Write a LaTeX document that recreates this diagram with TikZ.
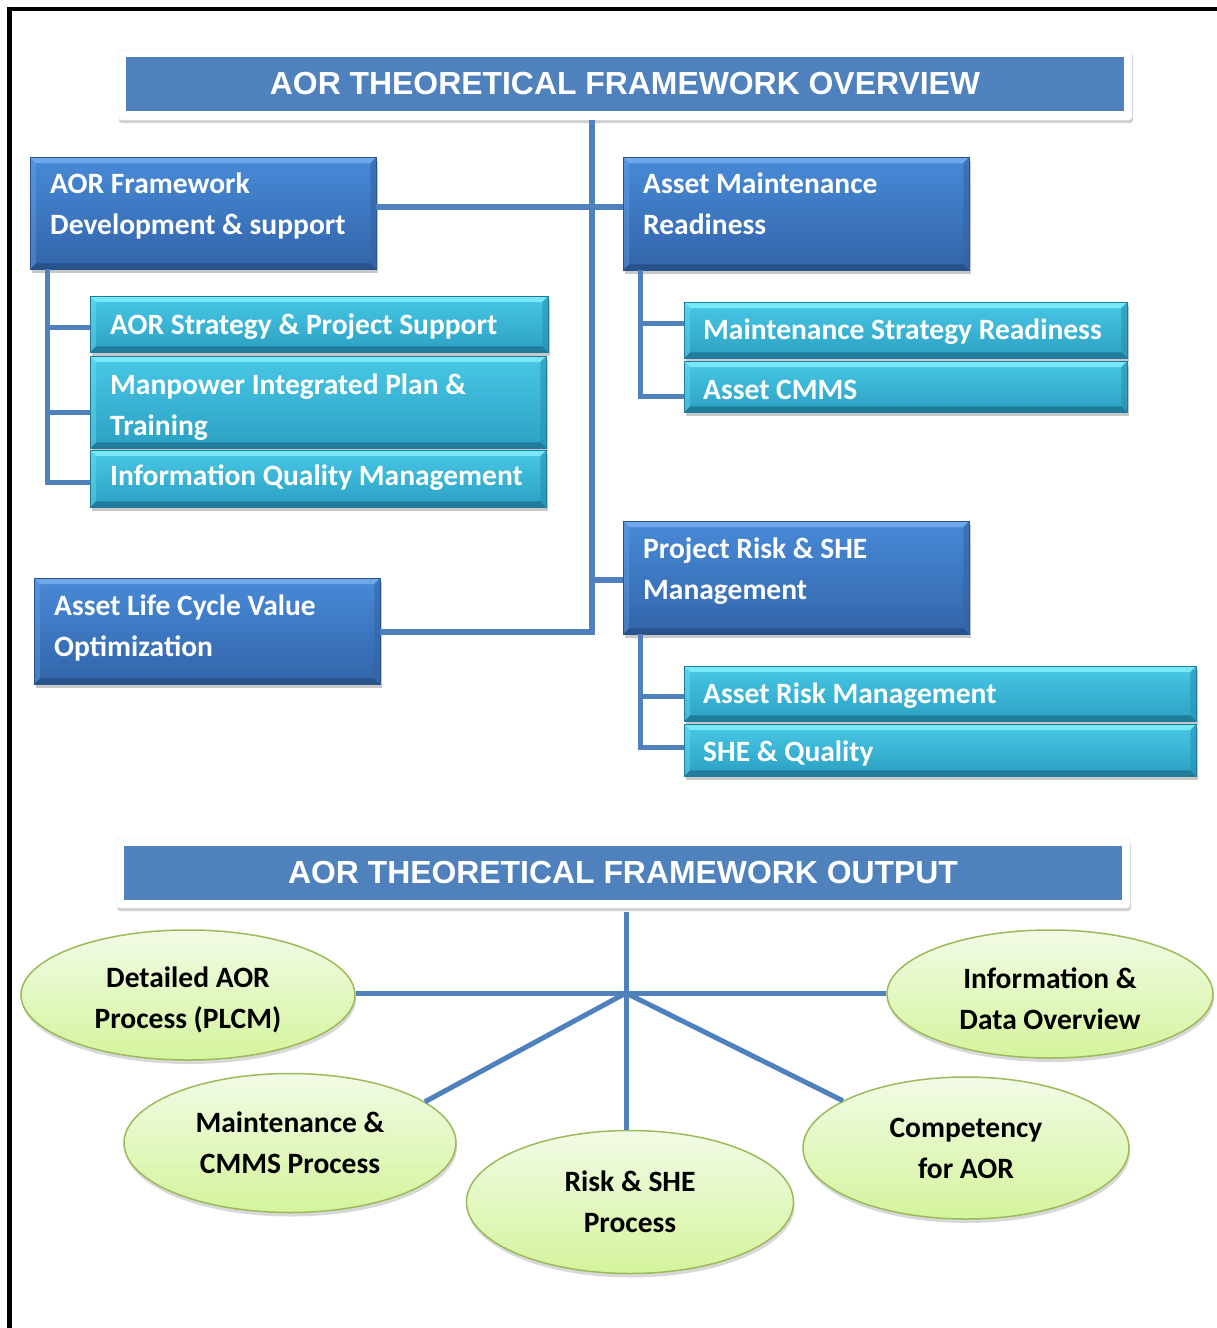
\documentclass[tikz,border=0pt]{standalone}
\usepackage{fontspec}
\usetikzlibrary{shapes.geometric,shadows,calc}
\newfontfamily\panelfont{Carlito}
\newfontfamily\headfont{Liberation Sans}

\definecolor{linkblue}{RGB}{79,129,189}
\definecolor{headblue}{RGB}{79,129,189}
\definecolor{bluetop}{RGB}{72,138,216}
\definecolor{bluebot}{RGB}{50,100,168}
\definecolor{bluehi}{RGB}{112,168,236}
\definecolor{bluelo}{RGB}{40,82,140}
\definecolor{blueside}{RGB}{52,100,165}
\definecolor{cyantop}{RGB}{72,200,230}
\definecolor{cyanbot}{RGB}{44,160,194}
\definecolor{cyanhi}{RGB}{120,232,248}
\definecolor{cyanlo}{RGB}{32,124,155}
\definecolor{cyanside}{RGB}{40,145,178}
\definecolor{leaftop}{RGB}{242,251,230}
\definecolor{leafbot}{RGB}{212,244,156}
\definecolor{leafedge}{RGB}{155,187,89}

\tikzset{
  panelbox/.style={rectangle, anchor=north west, inner sep=0pt,
    drop shadow={shadow xshift=2pt, shadow yshift=-4pt, opacity=.3, fill=black!70}},
  paneltext/.style={anchor=base west, align=left, inner sep=0pt, text=white,
    font=\panelfont\bfseries\fontsize{29.5}{41}\selectfont},
  headframe/.style={rectangle, rounded corners=3pt, fill=white, draw=black!10,
    inner sep=0pt, drop shadow={shadow xshift=1pt, shadow yshift=-3pt, opacity=.3, fill=black!60}},
  headbar/.style={rectangle, fill=headblue, text=white, inner sep=0pt,
    font=\headfont\bfseries\fontsize{31.9}{38}\selectfont},
  leaf/.style={ellipse, inner sep=0pt, top color=leaftop, bottom color=leafbot,
    draw=leafedge, line width=1.5pt, align=center, text=black,
    drop shadow={shadow xshift=1pt, shadow yshift=-4pt, opacity=.25, fill=black!60},
    font=\panelfont\bfseries\fontsize{29.5}{41}\selectfont},
  trunk/.style={draw=linkblue, line width=6.5pt, line join=miter},
  branch/.style={draw=linkblue, line width=5pt, line join=miter},
  spoke/.style={draw=linkblue, line width=5pt},
}

% bevelled panel: name, x1, y1, x2, y2, palette
\newcommand\panel[6]{%
  \node[panelbox, top color=#6top, bottom color=#6bot,
        minimum width={(#4-#2)*1pt}, minimum height={(#5-#3)*1pt}] (#1) at (#2,#3) {};
  \fill[#6hi] (#1.north west) -- (#1.north east) -- ([shift={(-6pt,-6pt)}]#1.north east)
     -- ([shift={(6pt,-6pt)}]#1.north west) -- cycle;
  \fill[#6lo] (#1.south west) -- (#1.south east) -- ([shift={(-6pt,6pt)}]#1.south east)
     -- ([shift={(6pt,6pt)}]#1.south west) -- cycle;
  \fill[#6side, opacity=.6] (#1.north east) -- (#1.south east) -- ([shift={(-6pt,6pt)}]#1.south east)
     -- ([shift={(-6pt,-6pt)}]#1.north east) -- cycle;
  \fill[#6hi, opacity=.35] (#1.north west) -- (#1.south west) -- ([shift={(6pt,6pt)}]#1.south west)
     -- ([shift={(6pt,-6pt)}]#1.north west) -- cycle;
  \draw[#6lo, line width=1pt] (#1.north west) rectangle (#1.south east);
}
% raises the top of a first line so the text block sits lower
\newcommand\toplift{\rule{0pt}{31pt}}

\begin{document}
\begin{tikzpicture}[x=1pt, y=-1pt]
\useasboundingbox (0,0) rectangle (1217,1328);
\fill[white] (0,0) rectangle (1217,1328);

% outer frame
\draw[line width=4.7pt, line join=miter] (9.7,1328) -- (9.7,9) -- (1217,9);

% ---------- overview ----------
\node[headframe, minimum width=1014pt, minimum height=70pt] (ovwframe) at (625,85) {};
\node[headbar, minimum width=998pt, minimum height=54pt] (ovw) at (625,84) {AOR THEORETICAL FRAMEWORK OVERVIEW};

\panel{A}{30}{157}{376}{269}{blue}
\panel{B}{623}{157}{969}{270}{blue}
\panel{C}{623}{521}{969}{634}{blue}
\panel{D}{34}{578}{380}{684}{blue}

\panel{A1}{90}{296}{548}{352}{cyan}
\panel{A2}{90}{356}{546}{448}{cyan}
\panel{A3}{90}{450}{546}{507}{cyan}
\panel{B1}{684}{302}{1127}{358}{cyan}
\panel{B2}{684}{361}{1127}{412}{cyan}
\panel{C1}{684}{666}{1196}{721}{cyan}
\panel{C2}{684}{724}{1196}{776}{cyan}

% text anchors sit on the baseline of the last line
\node[paneltext] (A-t) at (50,234) {AOR Framework\\Development \& support};
\node[paneltext] (B-t) at (643,234) {Asset Maintenance\\Readiness};
\node[paneltext] (C-t) at (643,599) {Project Risk \& SHE\\Management};
\node[paneltext] (D-t) at (54,656) {Asset Life Cycle Value\\Optimization};
\node[paneltext] (A1-t) at (110,334) {AOR Strategy \& Project Support};
\node[paneltext] (A2-t) at (110,435) {Manpower Integrated Plan \&\\Training};
\node[paneltext] (A3-t) at (110,485) {Information Quality Management};
\node[paneltext] (B1-t) at (703,339) {Maintenance Strategy Readiness};
\node[paneltext] (B2-t) at (703,399) {Asset CMMS};
\node[paneltext] (C1-t) at (703,703) {Asset Risk Management};
\node[paneltext] (C2-t) at (703,761) {SHE \& Quality};

% trunk and main branches
\coordinate (j1) at (592,207);
\coordinate (j2) at (592,580);
\coordinate (jend) at (592,632);
\draw[trunk] (ovwframe.south -| j1) -- (jend) -- (D.east |- jend);
\draw[trunk] (A.east |- j1) -- (B.west |- j1);
\draw[trunk] (j2) -- (C.west |- j2);

% sub-trees
\coordinate (ta) at (47,0);
\coordinate (tb) at (640,0);
\path ([yshift=-3pt]A1.west) coordinate (a1j)
      ([yshift=-10pt]A2.west) coordinate (a2j)
      ([yshift=-3.5pt]A3.west) coordinate (a3j)
      ([yshift=7pt]B1.west) coordinate (b1j)
      ([yshift=-9.5pt]B2.west) coordinate (b2j)
      ([yshift=-2.5pt]C1.west) coordinate (c1j)
      ([yshift=3pt]C2.west) coordinate (c2j);
\draw[branch] (ta |- A.south) |- (a3j);
\draw[branch] (a1j -| ta) -- (a1j);
\draw[branch] (a2j -| ta) -- (a2j);
\draw[branch] (tb |- B.south) |- (b2j);
\draw[branch] (b1j -| tb) -- (b1j);
\draw[branch] (tb |- C.south) |- (c2j);
\draw[branch] (c1j -| tb) -- (c1j);

% ---------- output ----------
\node[headframe, minimum width=1014pt, minimum height=70pt] (outframe) at (623,873) {};
\node[headbar, minimum width=998pt, minimum height=54pt] (out) at (623,873) {AOR THEORETICAL FRAMEWORK OUTPUT};

\node[leaf, minimum width=334pt, minimum height=130pt] (E1) at (188,995) {\toplift Detailed AOR\\Process (PLCM)};
\node[leaf, minimum width=332pt, minimum height=139pt] (E2) at (290,1143) {Maintenance \&\\CMMS Process};
\node[leaf, minimum width=327pt, minimum height=143pt] (E3) at (630,1202) {Risk \& SHE\\Process};
\node[leaf, minimum width=326pt, minimum height=142pt] (E4) at (966,1148) {Competency\\for AOR};
\node[leaf, minimum width=326pt, minimum height=128pt] (E5) at (1050,994) {\toplift Information \&\\Data Overview};

\coordinate (hub) at (626,993);
\draw[spoke] ([yshift=-4pt]outframe.south -| hub) -- (hub |- E3.north);
\draw[spoke] (E1.east |- hub) -- (E5.west |- hub);
\draw[spoke] (E2.17) -- (hub) -- (E4.159);
\end{tikzpicture}
\end{document}
